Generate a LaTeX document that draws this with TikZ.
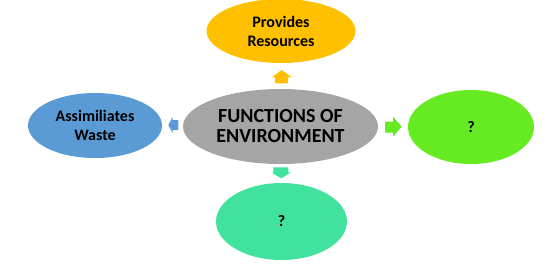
\documentclass[tikz,border=0pt]{standalone}
\usepackage{fontspec}
\setmainfont{Carlito}
\usetikzlibrary{shapes.geometric}
\definecolor{cyel}{HTML}{FFC000}
\definecolor{cgray}{HTML}{A5A5A5}
\definecolor{cblue}{HTML}{5B9BD5}
\definecolor{cgreen}{HTML}{66EB22}
\definecolor{cteal}{HTML}{41E29E}
\tikzset{
  oval/.style={ellipse, inner sep=0pt, align=center, text=black,
    font=\fontsize{16}{19}\selectfont\bfseries},
}
\begin{document}
\begin{tikzpicture}[x=1pt,y=-1pt]
\useasboundingbox (0,0) rectangle (559,266);
\node[oval, fill=cgray, minimum width=195pt, minimum height=75pt,
  font=\fontsize{20}{20}\selectfont\bfseries] (c) at (280.5,126.5) {FUNCTIONS OF\\ENVIRONMENT};
\node[oval, fill=cyel, minimum width=149pt, minimum height=64pt] (t) at (281,31) {Provides\\Resources};
\node[oval, fill=cblue, minimum width=134pt, minimum height=65pt] (l) at (95,125.5) {Assimiliates\\Waste};
\node[oval, fill=cgreen, minimum width=126pt, minimum height=74pt] (r) at (471,127) {?};
\node[oval, fill=cteal, minimum width=131pt, minimum height=77pt] (b) at (281.5,221.5) {?};
% block arrows
\fill[cyel] (275,83.3) -- (275,77.3) -- (271.7,77.3) -- (281.7,70) -- (291.7,77.3) -- (288,77.3) -- (288,83.3) -- cycle;
\fill[cgreen] (385,121.7) -- (393,121.7) -- (393,116.7) -- (401.7,126.7) -- (393,136.7) -- (393,132.7) -- (385,132.7) -- cycle;
\fill[cteal] (273.3,167.3) -- (288.3,167.3) -- (288.3,172.7) -- (290.7,172.7) -- (281.2,178.3) -- (271.7,172.7) -- (273.3,172.7) -- cycle;
\fill[cblue] (178.3,120) -- (172.7,120) -- (172.7,116.7) -- (168.3,125) -- (172.7,133.3) -- (172.7,130) -- (178.3,130) -- cycle;
\end{tikzpicture}
\end{document}
